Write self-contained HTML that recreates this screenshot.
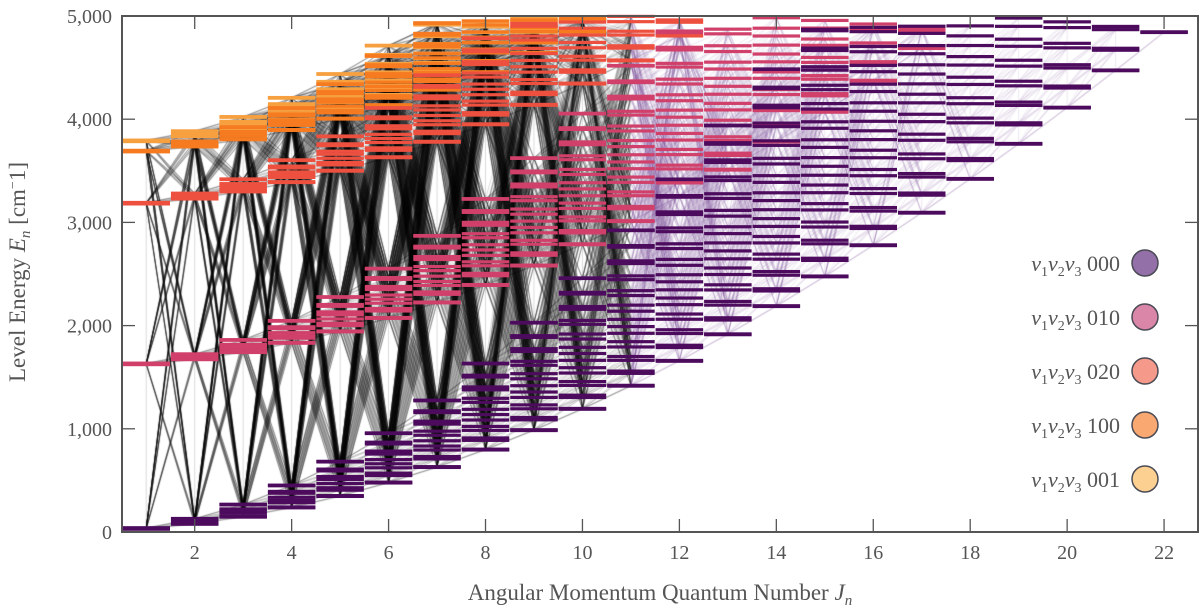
<!DOCTYPE html>
<html><head><meta charset="utf-8">
<style>
html,body{margin:0;padding:0;background:#fff;width:1200px;height:615px;overflow:hidden;}
#wrap{position:relative;width:1200px;height:615px;}
canvas,svg{position:absolute;left:0;top:0;}
svg text{font-family:"Liberation Serif","DejaVu Serif",serif;fill:#555;}
</style></head>
<body>
<div id="wrap">
<canvas id="cv" width="1200" height="615"></canvas>
<svg id="sv" width="1200" height="615" font-family="Liberation Serif, serif"></svg>
</div>
<script>
// ---- data ----
const bandNames = ["000","010","020","100","001"];
const bandOrigins = [0, 1595, 3152, 3657, 3756];
const bandColors = ["#4d0b5e","#d0406a","#ee5040","#f57a20","#f7a040"];
const legendColors = ["#9370a8","#d986a8","#f59a8a","#f8a870","#fcd090"];
const rotConstants = [27.9, 14.5, 9.3]; // A, B, C (cm-1)
const distortion = [0.0000246];
const jValues = [1,2,3,4,5,6,7,8,9,10,11,12,13,14,15,16,17,18,19,20,21,22];
const xTicks = [2,4,6,8,10,12,14,16,18,20,22];
const yTicks = [0,1000,2000,3000,4000,5000];
const yTickLabels = ["0","1,000","2,000","3,000","4,000","5,000"];
const eMax = [5000];

// ---- axes ----
const L=122,R=1198,T=16,B=532;
const xMin=0.5,xMax=22.7,yMin=0,yMax=5000;
const X=j=>L+(j-xMin)/(xMax-xMin)*(R-L);
const Y=e=>B-(e-yMin)/(yMax-yMin)*(B-T);

// ---- levels ----
function rotE(J,Ka,Kc){
  const [A,Bc,C]=rotConstants;
  const Bp=(Bc+C)/2, Bo=(A+Bc)/2, jj=J*(J+1);
  const ep=Bp*jj+(A-Bp)*Ka*Ka, eo=Bo*jj+(C-Bo)*Kc*Kc;
  const e=(ep+eo)/2;
  return e/(1+distortion[0]*e);
}
const levels={};
jValues.forEach(J=>{
  levels[J]=[];
  bandOrigins.forEach((o,b)=>{
    for(let Ka=0;Ka<=J;Ka++){
      const kcs=[J-Ka]; if(J-Ka+1<=J && Ka>0) kcs.push(J-Ka+1);
      kcs.forEach(Kc=>{
        const E=o+rotE(J,Ka,Kc);
        if(E<eMax[0]) levels[J].push({J,Ka,Kc,b,E});
      });
    }
  });
});

// ---- transitions (canvas) ----
const cv=document.getElementById('cv'),ctx=cv.getContext('2d');
ctx.save();ctx.beginPath();ctx.rect(L,T,R-L,B-T);ctx.clip();
ctx.lineWidth=0.7;
jValues.forEach(J=>{
  const a=levels[J],n=levels[J+1];
  const dark=J<11;
  ctx.strokeStyle=dark?'rgba(0,0,0,0.22)':'rgba(110,60,140,0.18)';
  ctx.beginPath();
  if(a.length){
    const es=a.map(l=>l.E);
    ctx.moveTo(X(J),Y(Math.min(...es)));ctx.lineTo(X(J),Y(Math.max(...es)));
  }
  if(n){
    a.forEach(p=>n.forEach(q=>{
      if(Math.abs(p.Ka-q.Ka)<=1&&Math.abs(p.Kc-q.Kc)<=1){
        ctx.moveTo(X(J),Y(p.E));ctx.lineTo(X(J+1),Y(q.E));
      }
    }));
  }
  ctx.stroke();
});
ctx.restore();

// ---- SVG ----
const NS='http://www.w3.org/2000/svg';
const sv=document.getElementById('sv');
function el(t,at,p){const e=document.createElementNS(NS,t);for(const k in at)e.setAttribute(k,at[k]);(p||sv).appendChild(e);return e;}
const gl=el('g',{});


jValues.forEach(J=>{
  levels[J].slice().sort((a,b)=>b.b-a.b).forEach(l=>{
    const r=el('rect',{x:X(J-0.49),y:Y(l.E)-1.6,width:X(J+0.49)-X(J-0.49),height:3.2,fill:bandColors[l.b]},gl);
    
    
  });
});
// frame
const fr=el('rect',{x:L,y:T,width:R-L,height:B-T,fill:'none',stroke:'#555','stroke-width':2});


const TF='Liberation Serif, DejaVu Serif, serif';
// ticks
yTicks.forEach((v,i)=>{
  const y=Y(v);
  el('line',{x1:L,x2:L+13,y1:y,y2:y,stroke:'#555','stroke-width':1.3});
  el('line',{x1:R-13,x2:R,y1:y,y2:y,stroke:'#555','stroke-width':1.3});
  const t=el('text',{x:L-10,y:y+7,'text-anchor':'end','font-size':20,'font-family':TF});
  t.textContent=yTickLabels[i];
  
  
});
xTicks.forEach(v=>{
  const x=X(v);
  el('line',{x1:x,x2:x,y1:B,y2:B-13,stroke:'#555','stroke-width':1.3});
  el('line',{x1:x,x2:x,y1:T,y2:T+13,stroke:'#555','stroke-width':1.3});
  const t=el('text',{x:x,y:B+27,'text-anchor':'middle','font-size':20,'font-family':TF});
  t.textContent=v;
  
  
});
// titles
const xt=el('text',{x:660,y:600,'text-anchor':'middle','font-size':23,'font-family':TF});
xt.innerHTML='Angular Momentum Quantum Number <tspan font-style="italic">J</tspan><tspan font-style="italic" font-size="15" dy="5">n</tspan>';


const yt=el('text',{x:0,y:0,'text-anchor':'middle','font-size':23,'font-family':TF,transform:'translate(25,272) rotate(-90)'});
yt.innerHTML='Level Energy <tspan font-style="italic">E</tspan><tspan font-style="italic" font-size="15" dy="5">n</tspan><tspan dy="-5"> [cm</tspan><tspan font-size="14" dy="-8">−</tspan><tspan dy="8">1]</tspan>';


// legend
bandNames.forEach((nm,i)=>{
  const y=263+i*54;
  const g=el('g',{});
  
  
  const t=el('text',{x:1120,y:y+8,'text-anchor':'end','font-size':22,'font-family':TF},g);
  t.innerHTML='<tspan font-style="italic">v</tspan><tspan font-size="14" dy="5">1</tspan><tspan font-style="italic" dy="-5">v</tspan><tspan font-size="14" dy="5">2</tspan><tspan font-style="italic" dy="-5">v</tspan><tspan font-size="14" dy="5">3</tspan><tspan dy="-5"> '+nm+'</tspan>';
  el('circle',{cx:1145,cy:y,r:13,fill:legendColors[i],stroke:'#4a4a55','stroke-width':1.5},g);
});
</script>
</body></html>
